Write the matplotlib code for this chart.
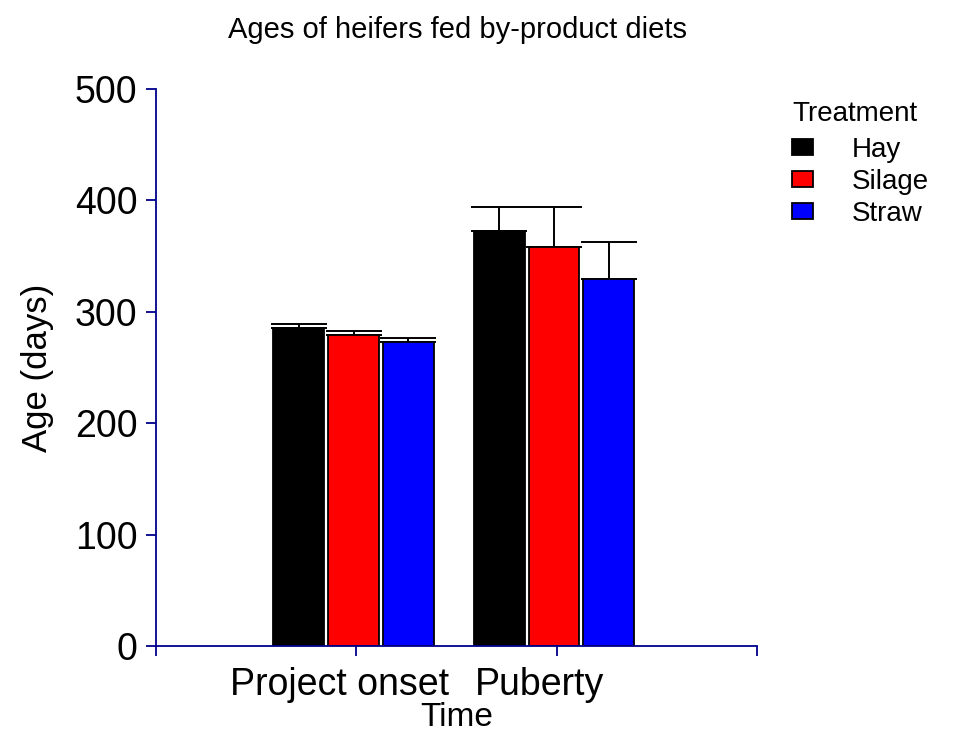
import matplotlib
matplotlib.use("Agg")
import matplotlib.pyplot as plt
import numpy as np

plt.rcParams['font.family'] = ['Liberation Sans', 'DejaVu Sans']

# data
times = ['Project onset', 'Puberty']
treatments = ['Hay', 'Silage', 'Straw']
colors = ['#000000', '#FF0000', '#0000FF']
means = {
    'Hay': [285.7, 372.3],
    'Silage': [278.9, 358.2],
    'Straw': [272.6, 329.4],
}
sem = {
    'Hay': [3.0, 21.5],
    'Silage': [4.0, 35.6],
    'Straw': [3.6, 33.0],
}

axis_col = '#00008B'
fig = plt.figure(figsize=(9.55, 7.4), dpi=100)
ax = fig.add_axes([0.163, 0.127, 0.6297, 0.753])

centers = np.array([0.987, 1.987])
step = 0.274
width = 0.254
for i, t in enumerate(treatments):
    xs = centers + (i - 1) * step
    ax.bar(xs, means[t], width, color=colors[i], edgecolor='black',
           linewidth=1.3, label=t, zorder=2)
    ax.errorbar(xs, means[t], yerr=[np.zeros(len(xs)), sem[t]], fmt='none',
                ecolor='black', elinewidth=1.4, capsize=20, capthick=1.4,
                zorder=1)

ax.set_xlim(0, 3)
ax.set_ylim(0, 500)
ax.set_yticks(np.arange(0, 501, 100))
ax.set_xticks([0, 1, 2, 3])
ax.set_xticklabels([])
# Prism puts the group names a little left of the group ticks
ax.set_xticks(centers - 0.07, minor=True)
ax.set_xticklabels(times, minor=True)
ax.tick_params(axis='x', which='minor', length=0, pad=15, labelsize=27)
ax.tick_params(axis='x', which='major', length=7, width=1.3, color=axis_col,
               direction='out')
ax.tick_params(axis='y', length=7, width=1.3, color=axis_col, pad=6,
               labelsize=27)

for s in ['top', 'right']:
    ax.spines[s].set_visible(False)
for s in ['left', 'bottom']:
    ax.spines[s].set_color(axis_col)
    ax.spines[s].set_linewidth(1.3)
    ax.spines[s].set_zorder(3)

ax.set_ylabel('Age (days)', fontsize=25, labelpad=15)
ax.set_xlabel('Time', fontsize=24)
ax.xaxis.set_label_coords(0.5, -0.1)
fig.suptitle('Ages of heifers fed by-product diets', fontsize=21,
             x=0.479, y=0.978)

leg = ax.legend(title='Treatment', loc='upper left',
                bbox_to_anchor=(0.815, 0.882), bbox_transform=fig.transFigure,
                frameon=False, fontsize=20, title_fontsize=20,
                handlelength=0.75, handleheight=0.5, handletextpad=1.4,
                labelspacing=0.22, borderpad=0)
leg._legend_box.align = 'left'
leg._legend_box.sep = 7

fig.savefig('out.png', dpi=100)
